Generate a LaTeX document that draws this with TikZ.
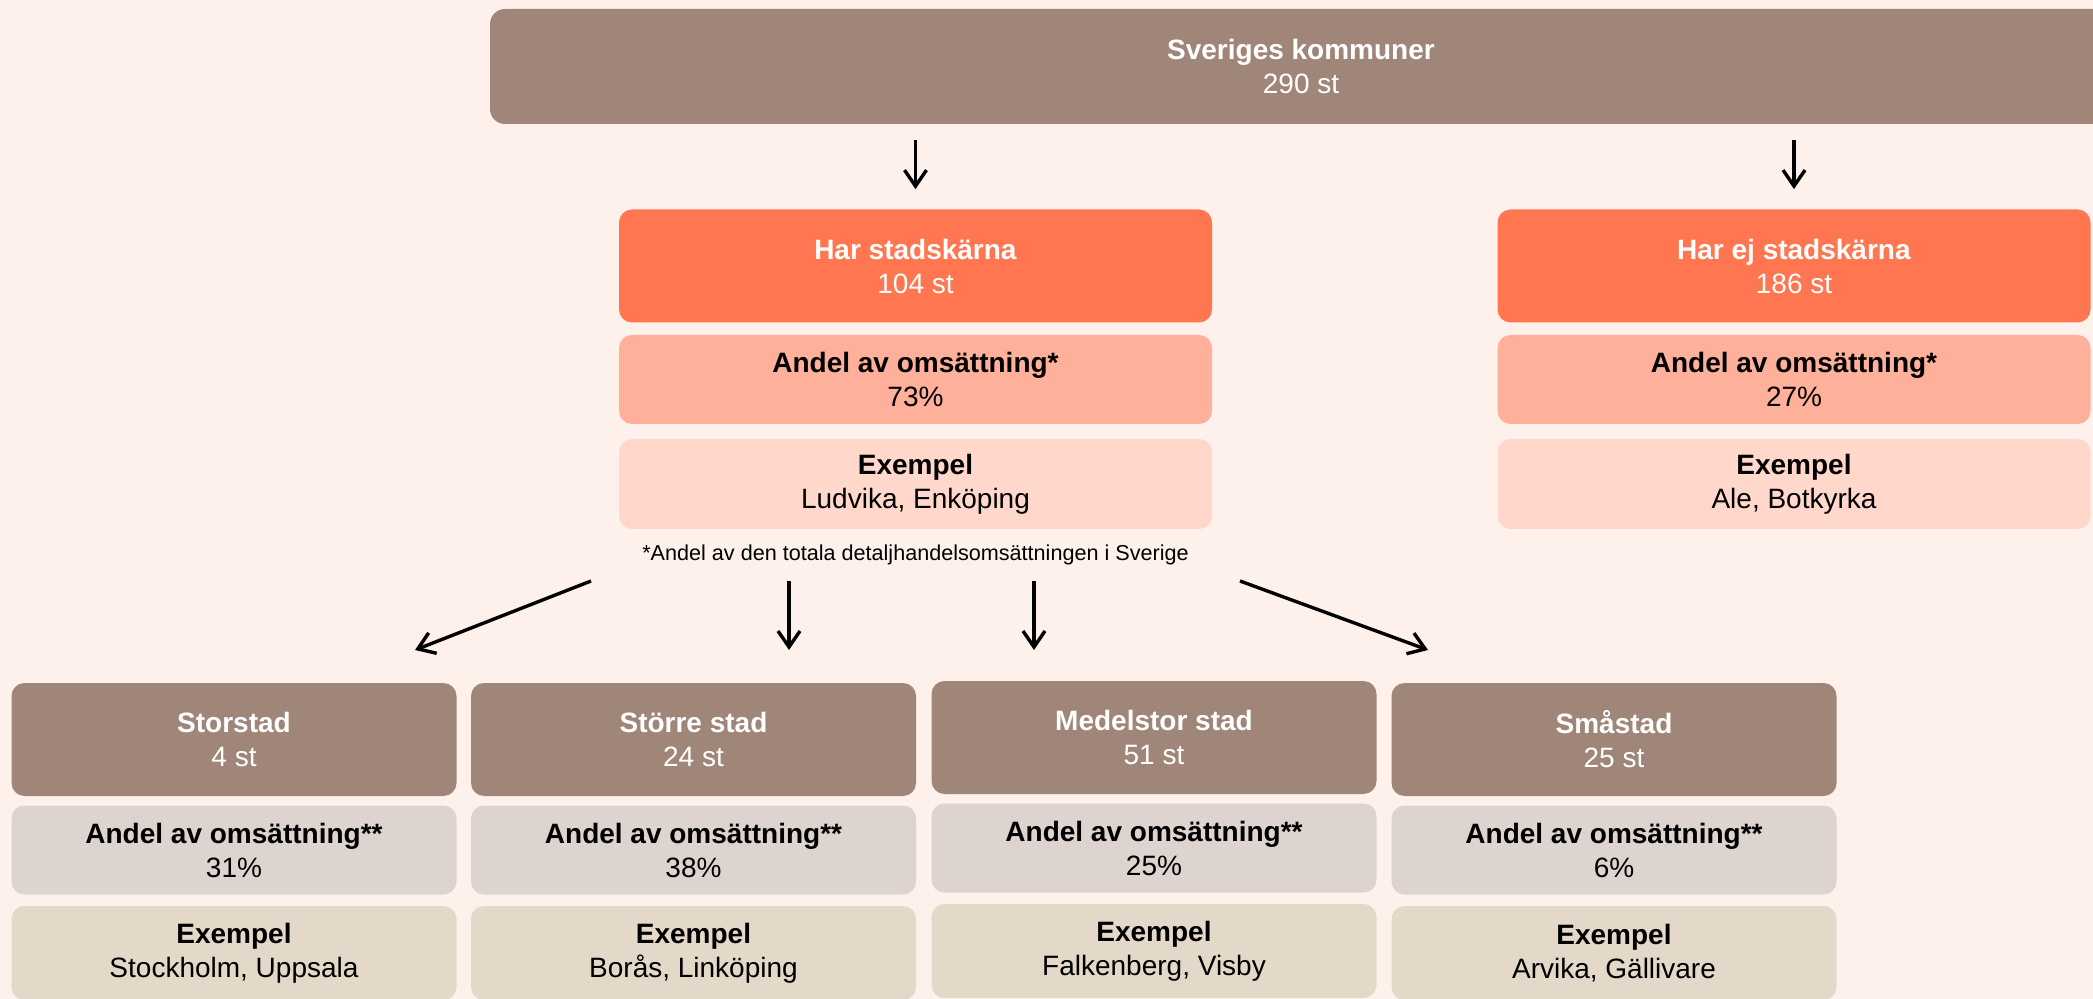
\documentclass[tikz,border=0pt]{standalone}
\usepackage{fontspec}
\setmainfont{Liberation Sans}
\usetikzlibrary{arrows.meta}
\definecolor{bgc}{HTML}{FEF0EB}
\definecolor{brownc}{HTML}{A08678}
\definecolor{orangec}{HTML}{FF7650}
\definecolor{salmonc}{HTML}{FFB09B}
\definecolor{pinkc}{HTML}{FFD7CB}
\definecolor{greyc}{HTML}{DED4CF}
\definecolor{beigec}{HTML}{E4D8C8}
\begin{document}
\begin{tikzpicture}[x=0.5pt,y=-0.5pt,
  box/.style={rounded corners=6.5pt, inner sep=0pt, align=center,
    font=\fontsize{14}{17}\selectfont},
  headbox/.style={box, text=white, minimum height=56.5pt},
  topcol/.style={minimum width=296.5pt},
  botcol/.style={minimum width=222.5pt},
  sharebox/.style={box, text=black, minimum height=44.5pt},
  exbox/.style={box, text=black, minimum height=45pt},
  lowex/.style={exbox, minimum height=47pt},
  arr/.style={line width=1.7pt, -{Straight Barb[length=8pt,width=11pt]}},
  notetext/.style={font=\fontsize{10.8}{13}\selectfont, inner sep=0pt}
]
\useasboundingbox (0,0) rectangle (2093,999);
\fill[bgc] (0,0) rectangle (2093,999);
\begin{scope}
\clip (0,0) rectangle (2093,999);
% top
\node[box, fill=brownc, text=white, rounded corners=7.5pt,
  minimum width=811pt, minimum height=57.5pt] (top) at (1301,66.5)
  {\textbf{Sveriges kommuner}\\290 st};
% level 2
\node[headbox, topcol, fill=orangec] (har) at (915.5,266) {\textbf{Har stadskärna}\\104 st};
\node[sharebox, topcol, fill=salmonc] (harA) at (915.5,379.5) {\textbf{Andel av omsättning*}\\73\%};
\node[exbox, topcol, fill=pinkc] (harE) at (915.5,484) {\textbf{Exempel}\\Ludvika, Enköping};
\node[headbox, topcol, fill=orangec] (ej) at (1794,266) {\textbf{Har ej stadskärna}\\186 st};
\node[sharebox, topcol, fill=salmonc] (ejA) at (1794,379.5) {\textbf{Andel av omsättning*}\\27\%};
\node[exbox, topcol, fill=pinkc] (ejE) at (1794,484) {\textbf{Exempel}\\Ale, Botkyrka};
\node[notetext] (note) at (915.5,555) {*Andel av den totala detaljhandelsomsättningen i Sverige};
% level 3
\node[headbox, botcol, fill=brownc] (s1) at (234,739.5) {\textbf{Storstad}\\4 st};
\node[sharebox, botcol, fill=greyc] (s1A) at (234,850) {\textbf{Andel av omsättning**}\\31\%};
\node[lowex, botcol, fill=beigec] (s1E) at (234,953) {\textbf{Exempel}\\Stockholm, Uppsala};
\node[headbox, botcol, fill=brownc] (s2) at (693.5,739.5) {\textbf{Större stad}\\24 st};
\node[sharebox, botcol, fill=greyc] (s2A) at (693.5,850) {\textbf{Andel av omsättning**}\\38\%};
\node[lowex, botcol, fill=beigec] (s2E) at (693.5,953) {\textbf{Exempel}\\Borås, Linköping};
\node[headbox, botcol, fill=brownc] (s3) at (1154,737.5) {\textbf{Medelstor stad}\\51 st};
\node[sharebox, botcol, fill=greyc] (s3A) at (1154,848) {\textbf{Andel av omsättning**}\\25\%};
\node[lowex, botcol, fill=beigec] (s3E) at (1154,951) {\textbf{Exempel}\\Falkenberg, Visby};
\node[headbox, botcol, fill=brownc] (s4) at (1614,739.5) {\textbf{Småstad}\\25 st};
\node[sharebox, botcol, fill=greyc] (s4A) at (1614,850) {\textbf{Andel av omsättning**}\\6\%};
\node[lowex, botcol, fill=beigec] (s4E) at (1614,953) {\textbf{Exempel}\\Arvika, Gällivare};
\end{scope}
% arrows top
\draw[arr, shorten <=8pt, shorten >=10pt] (top.south -| har.north) -- (har.north);
\draw[arr, shorten <=8pt, shorten >=10pt] (top.south -| ej.north) -- (ej.north);
% arrows bottom
\coordinate (b1s) at (591,581);
\coordinate (b1e) at (415,650);
\coordinate (b2s) at (789,581);
\coordinate (b2e) at (789,650);
\coordinate (b3s) at (1034,581);
\coordinate (b3e) at (1034,650);
\coordinate (b4s) at (1240,581);
\coordinate (b4e) at (1428,650);
\draw[arr] (b1s) -- (b1e);
\draw[arr] (b2s) -- (b2e);
\draw[arr] (b3s) -- (b3e);
\draw[arr] (b4s) -- (b4e);
\end{tikzpicture}
\end{document}
